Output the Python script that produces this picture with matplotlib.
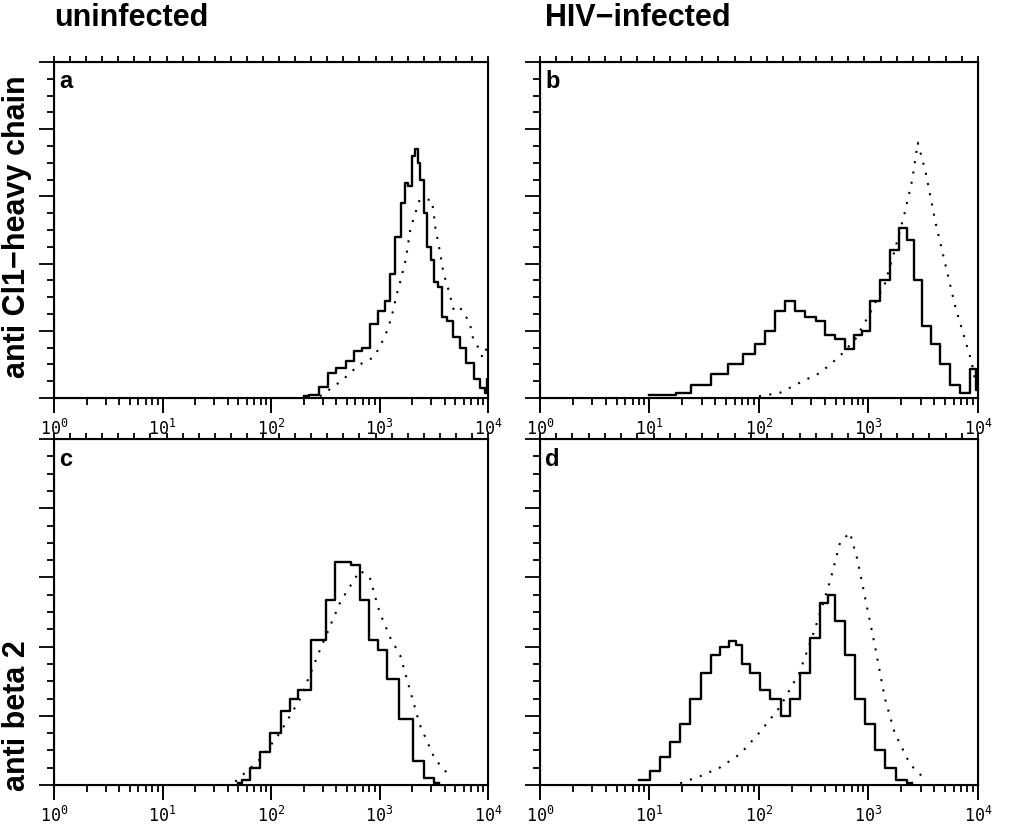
import numpy as np
import matplotlib
matplotlib.use("Agg")
import matplotlib.pyplot as plt
from matplotlib.ticker import LogLocator, MultipleLocator, NullFormatter, FuncFormatter

plt.rcParams['font.family'] = ['Liberation Sans', 'DejaVu Sans']
plt.rcParams['mathtext.default'] = 'regular'

# ---- data: log10(fluorescence) vs. cell count (arbitrary units 0-20) ----
# a: uninfected, anti CI1-heavy chain
a_solid_x = [2.30, 2.40, 2.48, 2.56, 2.64, 2.73, 2.79, 2.88, 2.94, 3.03, 3.07, 3.12, 3.17, 3.22,
             3.25, 3.28, 3.31, 3.34, 3.36, 3.39, 3.42, 3.45, 3.49, 3.51, 3.56, 3.59, 3.65,
             3.71, 3.77, 3.83, 3.90, 3.95, 3.99, 4.00]
a_solid_y = [0.1, 0.2, 0.65, 1.5, 1.8, 2.2, 2.8, 3.0, 4.4, 5.2, 5.8, 7.4, 9.6, 11.6,
             12.8, 12.6, 14.4, 14.8, 14.0, 13.0, 11.0, 9.0, 8.2, 6.9, 6.6, 4.8, 4.6,
             3.6, 3.0, 2.1, 1.1, 0.6, 0.3, 1.1]
a_dot_x = [2.45, 2.57, 2.66, 2.73, 2.82, 2.94, 3.00, 3.07, 3.11, 3.16, 3.19, 3.24, 3.26, 3.28,
           3.31, 3.37, 3.44, 3.48, 3.50, 3.51, 3.53, 3.56, 3.59, 3.62, 3.65, 3.68, 3.73,
           3.77, 3.83, 3.86, 3.91, 3.95, 3.99]
a_dot_y = [0.1, 0.65, 1.07, 1.5, 2.0, 2.4, 3.0, 4.0, 4.8, 6.2, 6.9, 8.2, 9.0, 9.9,
           10.6, 11.8, 11.8, 11.8, 11.0, 10.3, 9.6, 8.6, 7.4, 6.8, 6.1, 5.3, 5.5,
           5.1, 4.5, 3.6, 3.0, 2.4, 3.0]

# b: HIV-infected, anti CI1-heavy chain
b_solid_x = [1.00, 1.20, 1.28, 1.46, 1.64, 1.78, 1.92, 2.00, 2.10, 2.19, 2.28, 2.37, 2.47, 2.56,
             2.65, 2.74, 2.83, 2.90, 2.97, 3.06, 3.15, 3.24, 3.32, 3.38, 3.45, 3.52, 3.61,
             3.70, 3.79, 3.88, 3.97, 4.00]
b_solid_y = [0.2, 0.2, 0.3, 0.8, 1.4, 2.0, 2.6, 3.2, 4.0, 5.2, 5.8, 5.2, 4.8, 4.6,
             3.75, 3.5, 2.9, 3.75, 4.0, 5.8, 7.0, 8.8, 10.1, 9.4, 7.0, 4.3, 3.2,
             2.0, 0.8, 0.3, 1.7, 0.5]
b_dot_x = [2.00, 2.19, 2.37, 2.56, 2.74, 2.88, 3.01, 3.15, 3.24, 3.33, 3.40, 3.45, 3.52, 3.61,
           3.70, 3.79, 3.88, 3.94, 3.99]
b_dot_y = [0.1, 0.3, 0.9, 1.5, 2.5, 3.5, 5.0, 6.8, 8.8, 11.0, 13.0, 15.2, 13.5, 10.5,
           8.0, 5.5, 3.5, 2.2, 0.5]

# c: uninfected, anti beta 2
c_solid_x = [1.70, 1.76, 1.85, 1.94, 2.04, 2.13, 2.22, 2.27, 2.45, 2.55, 2.62, 2.69, 2.78, 2.86,
             2.95, 3.02, 3.12, 3.23, 3.37, 3.45, 3.55]
c_solid_y = [0.1, 0.3, 1.0, 1.9, 3.0, 4.3, 5.0, 5.5, 8.4, 10.7, 12.9, 12.9, 12.7, 10.7,
             8.4, 7.8, 6.1, 3.8, 1.4, 0.4, 0.1]
c_dot_x = [1.67, 1.90, 2.08, 2.27, 2.45, 2.64, 2.82, 2.91, 3.00, 3.10, 3.19, 3.28, 3.37, 3.51, 3.65]
c_dot_y = [0.2, 1.5, 3.0, 5.0, 7.8, 10.6, 12.4, 12.0, 10.0, 8.5, 7.5, 5.5, 3.5, 1.5, 0.5]

# d: HIV-infected, anti beta 2
d_solid_x = [0.90, 0.96, 1.05, 1.14, 1.23, 1.32, 1.42, 1.51, 1.60, 1.69, 1.76, 1.81, 1.87, 1.96,
             2.05, 2.15, 2.24, 2.33, 2.42, 2.51, 2.60, 2.65, 2.74, 2.83, 2.92, 3.01, 3.10,
             3.20, 3.29, 3.40]
d_solid_y = [0.3, 0.3, 0.8, 1.6, 2.5, 3.5, 5.0, 6.5, 7.5, 8.0, 8.3, 8.1, 7.0, 6.5,
             5.5, 5.0, 4.0, 5.0, 6.5, 8.5, 10.5, 11.0, 9.5, 7.5, 5.0, 3.5, 2.0,
             1.0, 0.3, 0.1]
d_dot_x = [1.28, 1.46, 1.64, 1.83, 2.00, 2.19, 2.37, 2.51, 2.65, 2.74, 2.83, 2.90, 2.97, 3.06,
           3.15, 3.24, 3.38, 3.52]
d_dot_y = [0.1, 0.5, 1.0, 1.8, 3.0, 4.5, 6.5, 9.0, 11.8, 14.0, 14.6, 13.0, 10.8, 8.0,
           5.0, 3.0, 1.2, 0.3]

panels = [
    ("a", a_solid_x, a_solid_y, a_dot_x, a_dot_y, [0.0533, 0.5182, 0.428, 0.4068]),
    ("b", b_solid_x, b_solid_y, b_dot_x, b_dot_y, [0.5325, 0.5182, 0.432, 0.4068]),
    ("c", c_solid_x, c_solid_y, c_dot_x, c_dot_y, [0.0533, 0.0496, 0.428, 0.4189]),
    ("d", d_solid_x, d_solid_y, d_dot_x, d_dot_y, [0.5325, 0.0496, 0.432, 0.4189]),
]

def decade_label(v, pos):
    return r"$\mathregular{10^{%d}}$" % round(np.log10(v))

fig = plt.figure(figsize=(10.14, 8.26), dpi=100)

for letter, sx, sy, dx, dy, pos in panels:
    ax = fig.add_axes(pos)
    ax.plot(10 ** np.array(sx), sy, color="black", lw=1.7, drawstyle="steps-mid")
    ax.plot(10 ** np.array(dx), dy, color="black", lw=1.5, linestyle=(0, (1, 4)))
    ax.set_xscale("log")
    ax.set_xlim(1, 1e4)
    ax.set_ylim(0, 20)
    for s in ax.spines.values():
        s.set_linewidth(1.5)
    # bottom: log ticks
    ax.xaxis.set_major_locator(LogLocator(base=10, numticks=10))
    ax.xaxis.set_major_formatter(FuncFormatter(decade_label))
    ax.xaxis.set_minor_locator(LogLocator(base=10, subs=np.arange(2, 10), numticks=10))
    ax.xaxis.set_minor_formatter(NullFormatter())
    ax.tick_params(axis="x", which="major", direction="out", length=11, width=1.4,
                   labelsize=12, pad=4, labelfontfamily="DejaVu Sans Mono")
    ax.tick_params(axis="x", which="minor", direction="out", length=5, width=1.3)
    # left: count ticks, no labels
    ax.yaxis.set_major_locator(MultipleLocator(4))
    ax.yaxis.set_minor_locator(MultipleLocator(1))
    ax.tick_params(axis="y", which="major", direction="out", length=11, width=1.3, labelleft=False)
    ax.tick_params(axis="y", which="minor", direction="out", length=5, width=1.3)
    # top: linear channel ticks
    top = ax.twiny()
    top.set_xlim(0, 27)
    top.set_xticks(range(0, 28))
    top.tick_params(axis="x", direction="out", length=4, width=1.3, labeltop=False)
    ax.text(0.012, 0.975, letter, transform=ax.transAxes, ha="left", va="top",
            fontsize=17, fontweight="bold")

fig.text(0.053, 0.978, "uninfected", fontsize=22, fontweight="bold", ha="left", va="center")
fig.text(0.537, 0.978, "HIV\u2212infected", fontsize=22, fontweight="bold", ha="left", va="center")
fig.text(0.017, 0.726, "anti Cl1\u2212heavy chain", fontsize=22, fontweight="bold",
         rotation=90, ha="center", va="center")
fig.text(0.017, 0.134, "anti beta 2", fontsize=22, fontweight="bold",
         rotation=90, ha="center", va="center")

fig.savefig("out.png", dpi=100)
